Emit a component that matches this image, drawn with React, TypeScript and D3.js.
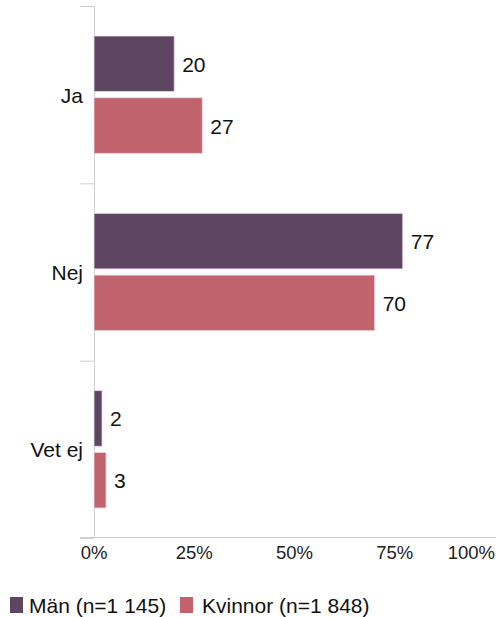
import * as d3 from 'd3';
import React from 'react';

const categories = ['Ja', 'Nej', 'Vet ej'];
const seriesNames = ['Män (n=1 145)', 'Kvinnor (n=1 848)'];
const men = [20, 77, 2];
const women = [27, 70, 3];
const xTicks = [0, 25, 50, 75, 100];
const colors = ['#5e4561', '#c1636c'];

const W = 496;
const H = 617;
const left = 94;
const right = 495;
const top = 6;
const bottom = 538;
const font = "'Liberation Sans', Arial, sans-serif";

const App = () => {
  const x = d3.scaleLinear().domain([0, 100]).range([left, right]);
  const y = d3.scaleBand().domain(categories).range([top, bottom]);
  const inner = d3
    .scaleBand()
    .domain(['0', '1'])
    .range([30, y.bandwidth() - 30])
    .paddingInner(0.1);
  const series = [men, women];

  return (
    <svg width={W} height={H} style={{ position: 'absolute', left: 0, top: 0 }}>
      <rect width={W} height={H} fill='#fff' />
      {/* y axis */}
      <line x1={left + 0.5} x2={left + 0.5} y1={top} y2={bottom} stroke='#d0d0d0' />
      {[...categories.map((c) => y(c)!), bottom].map((v, i) => (
        <line key={i} x1={80} x2={left} y1={v + 0.5} y2={v + 0.5} stroke='#d0d0d0' />
      ))}
      {/* x axis */}
      <line x1={80} x2={W} y1={bottom - 0.5} y2={bottom - 0.5} stroke='#d0d0d0' />
      {xTicks.map((t) => (
        <text
          key={t}
          x={t === 100 ? W - 1 : x(t)}
          y={559}
          textAnchor={t === 100 ? 'end' : 'middle'}
          fontFamily={font}
          fontSize={18.5}
          fill='#222'
        >
          {t}%
        </text>
      ))}
      {categories.map((c) => (
        <text
          key={c}
          x={83}
          y={y(c)! + y.bandwidth() / 2 + 8}
          textAnchor='end'
          fontFamily={font}
          fontSize={21}
          fill='#111'
        >
          {c}
        </text>
      ))}
      {series.map((vals, si) =>
        vals.map((v, ci) => {
          const by = y(categories[ci])! + inner(String(si))!;
          return (
            <g key={`${si}-${ci}`}>
              <rect
                x={x(0)}
                y={by}
                width={x(v) - x(0)}
                height={inner.bandwidth()}
                fill={colors[si]}
                stroke='#e8dce6'
                strokeWidth={0.8}
              />
              <text
                x={x(v) + 8}
                y={by + inner.bandwidth() / 2 + 8}
                fontFamily={font}
                fontSize={21}
                fill='#111'
              >
                {v}
              </text>
            </g>
          );
        })
      )}
      {/* legend */}
      {seriesNames.map((s, i) => {
        const lx = i === 0 ? 10 : 180;
        return (
          <g key={s}>
            <rect x={lx} y={597} width={13} height={16} fill={colors[i]} />
            <text x={lx + (i === 0 ? 19 : 22)} y={612.5} fontFamily={font} fontSize={21} fill='#111'>
              {s}
            </text>
          </g>
        );
      })}
    </svg>
  );
};

export default App;
